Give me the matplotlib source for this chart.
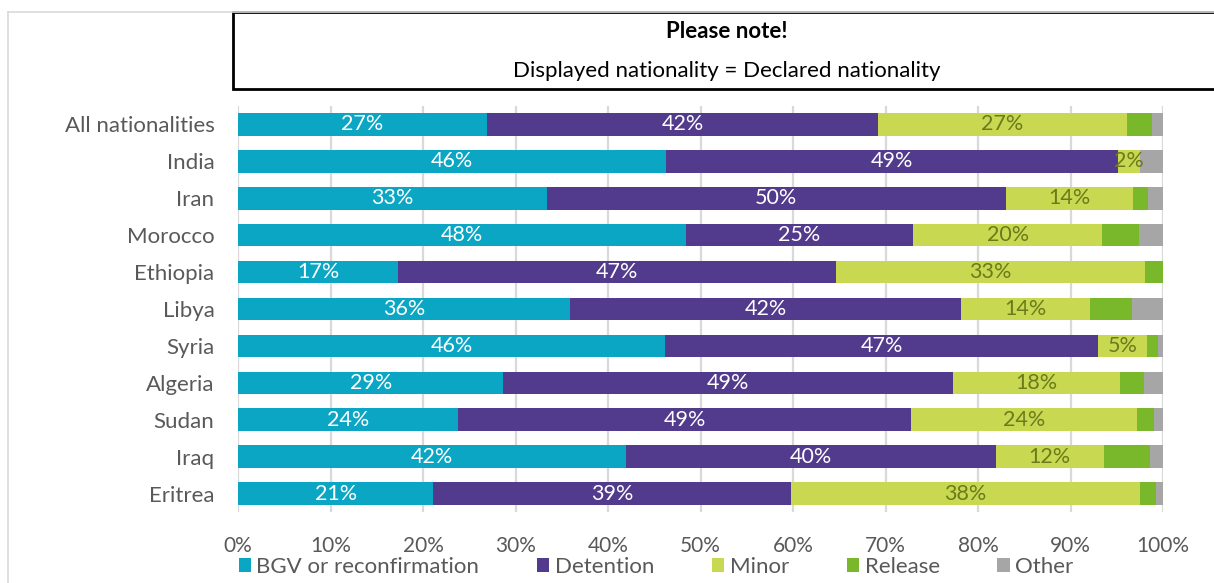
import numpy as np
import matplotlib
matplotlib.use("Agg")
import matplotlib.pyplot as plt
from matplotlib.patches import Rectangle
from matplotlib.lines import Line2D
from matplotlib.ticker import PercentFormatter

plt.rcParams['font.family'] = ['Lato', 'DejaVu Sans']

countries = ["All nationalities", "India", "Iran", "Morocco", "Ethiopia", "Libya",
             "Syria", "Algeria", "Sudan", "Iraq", "Eritrea"]
series = ["BGV or reconfirmation", "Detention", "Minor", "Release", "Other"]

bgv       = [26.9, 46.3, 33.4, 48.4, 17.3, 35.9, 46.2, 28.7, 23.8, 41.9, 21.1]
detention = [42.3, 48.8, 49.6, 24.6, 47.4, 42.3, 46.8, 48.6, 49.0, 40.0, 38.7]
minor     = [26.9,  2.4, 13.8, 20.4, 33.3, 13.9,  5.3, 18.1, 24.4, 11.7, 37.7]
release   = [ 2.7,  0.0,  1.6,  4.0,  2.0,  4.6,  1.2,  2.5,  1.8,  5.0,  1.7]
other     = [ 1.2,  2.5,  1.6,  2.6,  0.0,  3.3,  0.5,  2.1,  1.0,  1.4,  0.8]

colors = ["#0aa6c4", "#523a8c", "#c9d851", "#78b82a", "#a6a6a6"]
label_colors = ["white", "white", "#6b7a1c", None, None]

fig = plt.figure(figsize=(12.14, 5.83), dpi=100)
ax = fig.add_axes([238 / 1214, 71 / 583, 925 / 1214, 406 / 583])

y = np.arange(len(countries))
left = np.zeros(len(countries))
for vals, name, col, lcol in zip([bgv, detention, minor, release, other],
                                 series, colors, label_colors):
    v = np.array(vals) / 100.0
    bars = ax.barh(y, v, left=left, height=0.61, color=col, label=name, zorder=3)
    if lcol is not None:
        for b, val in zip(bars, vals):
            if val > 0:
                ax.text(b.get_x() + b.get_width() / 2, b.get_y() + b.get_height() / 2,
                        f"{val:.0f}%", ha="center", va="center",
                        color=lcol, fontsize=15.5, zorder=4)
    left += v

ax.set_xlim(0, 1)
ax.set_ylim(len(countries) - 0.5, -0.5)
ax.set_yticks(y)
ax.set_yticklabels(countries)
ax.set_xticks(np.linspace(0, 1, 11))
ax.xaxis.set_major_formatter(PercentFormatter(1.0, decimals=0))
ax.tick_params(axis="both", length=0, labelcolor="#595959")
ax.tick_params(axis="x", pad=17, labelsize=15)
ax.tick_params(axis="y", pad=17, labelsize=16)
ax.grid(axis="x", color="#d9d9d9", linewidth=1.6, zorder=0)
for s in ax.spines.values():
    s.set_visible(False)

fig.legend(loc="center", bbox_to_anchor=(656 / 1214, 1 - 567 / 583), ncol=5,
           frameon=False, fontsize=16, handlelength=0.55, handleheight=0.55,
           handletextpad=0.25, columnspacing=2.6, labelcolor="#595959",
           borderaxespad=0, borderpad=0)

# outer chart frame
fig.add_artist(Line2D([8 / 1214, 8 / 1214], [0, 1 - 12 / 583],
                      transform=fig.transFigure, color="#d9d9d9", linewidth=1.2))
fig.add_artist(Line2D([8 / 1214, 1], [1 - 12 / 583, 1 - 12 / 583],
                      transform=fig.transFigure, color="#d9d9d9", linewidth=1.2))

# note box
fig.add_artist(Rectangle((233 / 1214, 1 - 89 / 583), 1.0, 77 / 583,
                         transform=fig.transFigure, facecolor="white",
                         edgecolor="black", linewidth=2, clip_on=False))
fig.text(727 / 1214, 1 - 32 / 583, "Please note!", ha="center", va="center",
         fontsize=16, fontweight="bold", color="black")
fig.text(727 / 1214, 1 - 71 / 583, "Displayed nationality = Declared nationality",
         ha="center", va="center", fontsize=16, color="black")

fig.savefig("out.png", dpi=100)
